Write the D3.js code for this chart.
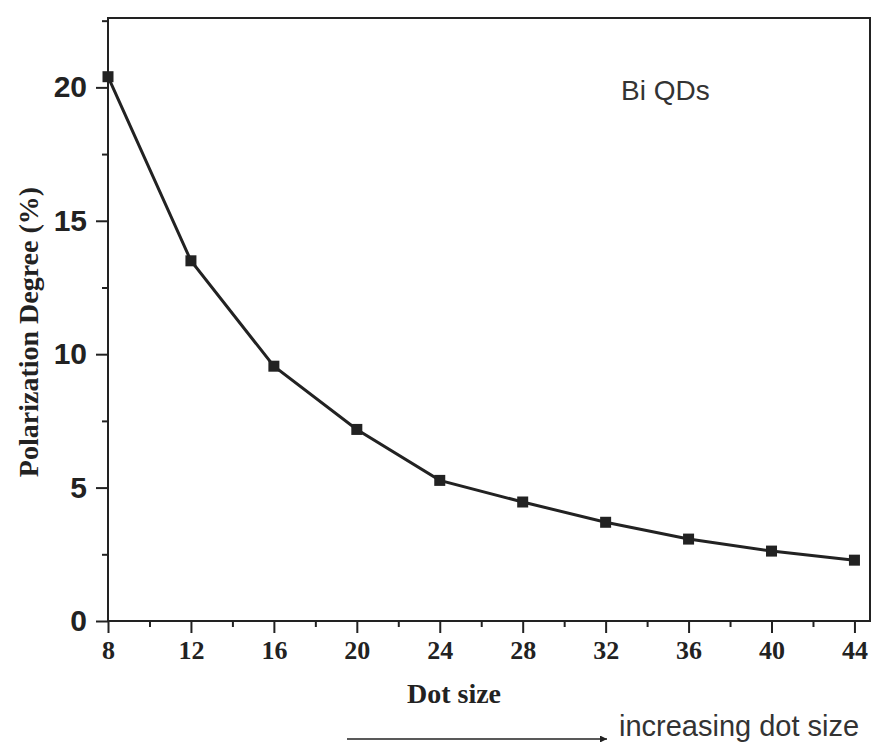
<!DOCTYPE html>
<html>
<head>
<meta charset="utf-8">
<script src="https://cdn.jsdelivr.net/npm/d3@7"></script>
<style>
body { margin: 0; background: #fff; }
</style>
</head>
<body>
<div id="chart"></div>
<script>
// dot size vs polarization degree
var dotSize = [8, 12, 16, 20, 24, 28, 32, 36, 40, 44];
var polDegree = [20.4, 13.5, 9.55, 7.18, 5.27, 4.46, 3.7, 3.07, 2.62, 2.28];
var xTicks = [8, 12, 16, 20, 24, 28, 32, 36, 40, 44];
var yTicks = [0, 5, 10, 15, 20];

var W = 874, H = 742;
var margin = { top: 18, right: 4, bottom: 121, left: 108 },
    width = W - margin.left - margin.right,
    height = H - margin.top - margin.bottom;

var svg = d3.select("#chart")
    .append("svg")
    .attr("width", W)
    .attr("height", H);

var g = svg.append("g")
    .attr("transform", "translate(" + margin.left + "," + margin.top + ")");

var x = d3.scaleLinear().domain([8, 44.75]).range([0, width]);
var y = d3.scaleLinear().domain([0, 22.6]).range([height, 0]);

// frame
g.append("rect")
    .attr("x", 0).attr("y", 0)
    .attr("width", width).attr("height", height)
    .style("fill", "none")
    .style("stroke", "#222")
    .style("stroke-width", 2);

// minor ticks
var xMinor = d3.range(10, 44, 4);
var yMinor = [2.5, 7.5, 12.5, 17.5, 22.5];

var xAxis = g.append("g")
    .attr("transform", "translate(0," + height + ")")
    .call(d3.axisBottom(x).tickValues(xTicks).tickSize(12).tickPadding(8).tickSizeOuter(0));
xAxis.select(".domain").remove();
xAxis.selectAll("line").style("stroke", "#222").style("stroke-width", 2);
xAxis.selectAll("text")
    .style("font-family", "'Liberation Serif', 'Times New Roman', serif")
    .style("font-weight", "bold")
    .style("font-size", "26px")
    .style("fill", "#222");
g.append("g")
    .attr("transform", "translate(0," + height + ")")
    .call(d3.axisBottom(x).tickValues(xMinor).tickSize(6).tickFormat(""))
    .call(function (a) { a.select(".domain").remove(); a.selectAll("line").style("stroke", "#222").style("stroke-width", 2); });

var yAxis = g.append("g")
    .call(d3.axisLeft(y).tickValues(yTicks).tickSize(12).tickPadding(9).tickSizeOuter(0));
yAxis.select(".domain").remove();
yAxis.selectAll("line").style("stroke", "#222").style("stroke-width", 2);
yAxis.selectAll("text")
    .style("font-family", "'Liberation Sans', Arial, sans-serif")
    .style("font-weight", "bold")
    .style("font-size", "30px")
    .style("fill", "#222");
g.append("g")
    .call(d3.axisLeft(y).tickValues(yMinor).tickSize(6).tickFormat(""))
    .call(function (a) { a.select(".domain").remove(); a.selectAll("line").style("stroke", "#222").style("stroke-width", 2); });

// line
var data = dotSize.map(function (d, i) { return { s: d, p: polDegree[i] }; });
g.append("path")
    .datum(data)
    .attr("d", d3.line()
        .x(function (d) { return x(d.s); })
        .y(function (d) { return y(d.p); }))
    .style("fill", "none")
    .style("stroke", "#222")
    .style("stroke-width", 3);

g.selectAll(".pt")
    .data(data)
    .enter()
    .append("rect")
    .attr("class", "pt")
    .attr("x", function (d) { return x(d.s) - 5.5; })
    .attr("y", function (d) { return y(d.p) - 5.5; })
    .attr("width", 11)
    .attr("height", 11)
    .style("fill", "#222");

// labels
svg.append("text")
    .attr("x", 621)
    .attr("y", 100)
    .text("Bi QDs")
    .style("font-family", "'Liberation Sans', Arial, sans-serif")
    .style("font-size", "28px")
    .style("fill", "#333");

svg.append("text")
    .attr("text-anchor", "middle")
    .attr("transform", "translate(38,332) rotate(-90)")
    .text("Polarization Degree (%)")
    .style("font-family", "'Liberation Serif', 'Times New Roman', serif")
    .style("font-weight", "bold")
    .style("font-size", "28px")
    .style("fill", "#222");

svg.append("text")
    .attr("text-anchor", "middle")
    .attr("x", 454)
    .attr("y", 703)
    .text("Dot size")
    .style("font-family", "'Liberation Serif', 'Times New Roman', serif")
    .style("font-weight", "bold")
    .style("font-size", "28px")
    .style("fill", "#222");

// arrow
svg.append("defs").append("marker")
    .attr("id", "arr")
    .attr("viewBox", "0 0 10 10")
    .attr("refX", 10).attr("refY", 5)
    .attr("markerWidth", 13).attr("markerHeight", 7)
    .attr("markerUnits", "userSpaceOnUse")
    .attr("orient", "auto")
    .append("path")
    .attr("d", "M0,0 L10,5 L0,10 z")
    .style("fill", "#222");
svg.append("line")
    .attr("x1", 347).attr("y1", 739)
    .attr("x2", 607).attr("y2", 739)
    .style("stroke", "#222")
    .style("stroke-width", 1.5)
    .attr("marker-end", "url(#arr)");

svg.append("text")
    .attr("x", 619)
    .attr("y", 736)
    .text("increasing dot size")
    .style("font-family", "'Liberation Sans', Arial, sans-serif")
    .style("font-size", "29px")
    .style("fill", "#333");
</script>
</body>
</html>
